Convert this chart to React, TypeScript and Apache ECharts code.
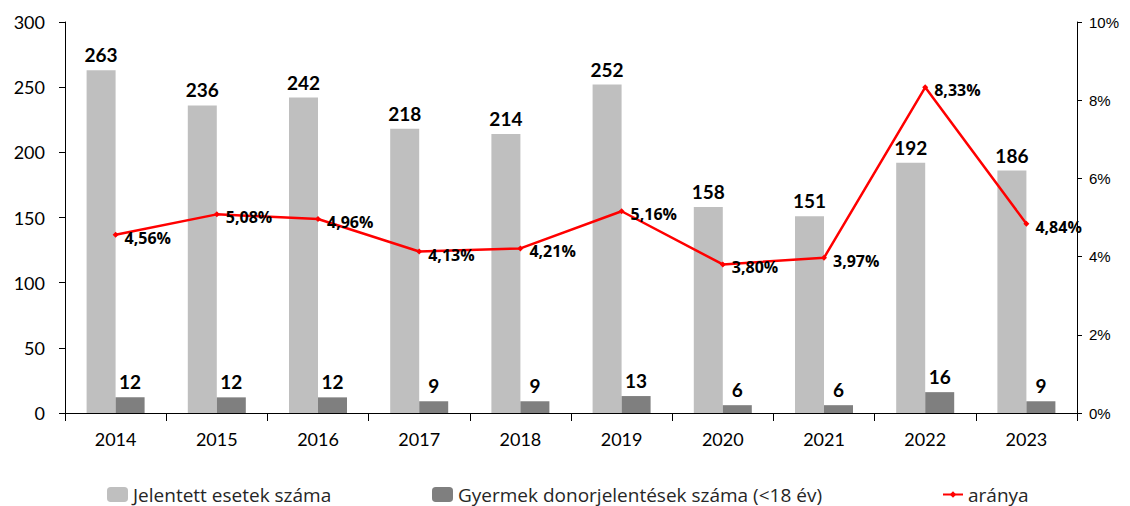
import React, { useEffect, useRef } from "react";
import * as echarts from "echarts";

const years = ["2014", "2015", "2016", "2017", "2018", "2019", "2020", "2021", "2022", "2023"];
const reported = [263, 236, 242, 218, 214, 252, 158, 151, 192, 186];
const children = [12, 12, 12, 9, 9, 13, 6, 6, 16, 9];
const ratio = [4.56, 5.08, 4.96, 4.13, 4.21, 5.16, 3.8, 3.97, 8.33, 4.84];

const nameA = "Jelentett esetek száma";
const nameB = "Gyermek donorjelentések száma (<18 év)";
const nameC = "aránya";

const font = "Lato, 'Open Sans', sans-serif";
const font2 = "'Open Sans', sans-serif";

export default function App() {
  const ref = useRef<HTMLDivElement>(null);
  useEffect(() => {
    const chart = echarts.init(ref.current!, null, { renderer: "svg" });
    const legendText = { fontSize: 19, color: "#262626", fontFamily: font2 };
    chart.setOption({
      animation: false,
      grid: { left: 65, right: 53, top: 22, bottom: 93 },
      legend: [
        { data: [nameA], left: 102, top: 480, itemWidth: 21, itemHeight: 15, itemGap: 0, textStyle: legendText },
        { data: [nameB], left: 427, top: 480, itemWidth: 21, itemHeight: 15, itemGap: 0, textStyle: legendText },
        { data: [nameC], left: 937, top: 480, itemWidth: 20, itemHeight: 8, itemGap: 0, textStyle: legendText },
      ],
      xAxis: {
        type: "category",
        data: years,
        axisLine: { lineStyle: { color: "#000", width: 1 } },
        axisTick: { show: true, length: 8, lineStyle: { color: "#000" } },
        axisLabel: { fontSize: 18, color: "#000", fontFamily: font, margin: 17 },
      },
      yAxis: [
        {
          type: "value",
          min: 0,
          max: 300,
          interval: 50,
          axisLine: { show: true, lineStyle: { color: "#000" } },
          axisTick: { show: true, length: 6, lineStyle: { color: "#000" } },
          axisLabel: { fontSize: 18, color: "#000", fontFamily: font, margin: 20 },
          splitLine: { show: false },
        },
        {
          type: "value",
          min: 0,
          max: 10,
          interval: 2,
          position: "right",
          axisLine: { show: true, lineStyle: { color: "#000" } },
          axisTick: { show: true, length: 5, lineStyle: { color: "#000" } },
          axisLabel: {
            fontSize: 15,
            color: "#000",
            fontFamily: "'Liberation Sans', Arial, sans-serif",
            margin: 12,
            formatter: (v: number) => v + "%",
          },
          splitLine: { show: false },
        },
      ],
      series: [
        {
          name: nameA,
          type: "bar",
          data: reported,
          barWidth: 29,
          barGap: "0%",
          itemStyle: { color: "#bfbfbf" },
          label: {
            show: true,
            position: "top",
            distance: 6,
            fontSize: 19,
            fontWeight: "bold",
            color: "#000",
            fontFamily: font,
          },
        },
        {
          name: nameB,
          type: "bar",
          data: children,
          barWidth: 29,
          barGap: "0%",
          itemStyle: { color: "#7f7f7f" },
          label: {
            show: true,
            position: "top",
            distance: 6,
            fontSize: 19,
            fontWeight: "bold",
            color: "#000",
            fontFamily: font,
          },
        },
        {
          name: nameC,
          type: "line",
          yAxisIndex: 1,
          data: ratio,
          z: 5,
          symbol: "diamond",
          symbolSize: 6,
          lineStyle: { color: "#ff0000", width: 2.5 },
          itemStyle: { color: "#ff0000" },
          label: {
            show: true,
            position: "right",
            distance: 6,
            offset: [0, 3],
            fontSize: 16,
            fontWeight: "bold",
            color: "#000",
            fontFamily: font2,
            formatter: (p: any) => p.value.toFixed(2).replace(".", ",") + "%",
          },
        },
      ],
    });
    return () => chart.dispose();
  }, []);
  return <div ref={ref} style={{ width: 1130, height: 506, position: "absolute", left: 0, top: 0 }} />;
}
